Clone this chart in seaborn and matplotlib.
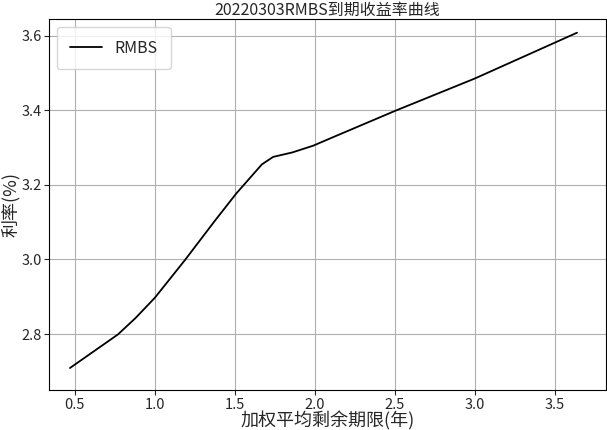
import seaborn as sns
import matplotlib.pyplot as plt
import pandas as pd

# Values
term = [0.47, 0.77, 0.88, 1.00, 1.19, 1.38, 1.51, 1.67, 1.74, 1.86, 1.99, 2.11, 2.50, 3.00, 3.64]
rate = [2.709, 2.799, 2.843, 2.897, 2.999, 3.106, 3.177, 3.255, 3.275, 3.287, 3.305, 3.327, 3.398, 3.485, 3.608]

df = pd.DataFrame({'term': term, 'rate': rate})

sns.set_style('ticks')
plt.rcParams['font.family'] = ['Noto Sans CJK SC', 'DejaVu Sans']
plt.rcParams['axes.unicode_minus'] = False

fig, ax = plt.subplots(figsize=(6.07, 4.30), dpi=100)
sns.lineplot(data=df, x='term', y='rate', color='black', linewidth=1.3, label='RMBS', ax=ax)

ax.set_title('20220303RMBS到期收益率曲线', fontsize=11.5, pad=3)
ax.set_xlabel('加权平均剩余期限(年)', fontsize=13, va='center')
ax.set_ylabel('利率(%)', fontsize=13, va='center')
ax.xaxis.set_label_coords(0.5, -0.083)
ax.yaxis.set_label_coords(-0.07, 0.5)
ax.set_xlim(0.34, 3.82)
ax.set_ylim(2.65, 3.645)
ax.set_xticks([0.5, 1.0, 1.5, 2.0, 2.5, 3.0, 3.5])
ax.set_yticks([2.8, 3.0, 3.2, 3.4, 3.6])
ax.tick_params(labelsize=10.5, pad=2)
ax.grid(True, color='#b0b0b0', linewidth=0.8)
for s in ax.spines.values():
    s.set_visible(True)
    s.set_color('black')
ax.legend(loc='upper left', fontsize=11.5, handlelength=2, borderpad=0.8)

plt.subplots_adjust(left=0.081, right=0.998, top=0.956, bottom=0.093)
plt.savefig('out.png', dpi=100)
